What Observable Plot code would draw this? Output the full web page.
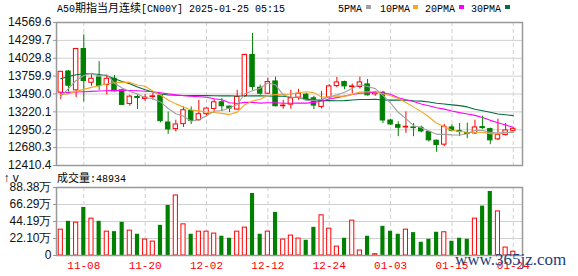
<!DOCTYPE html>
<html><head><meta charset="utf-8">
<script src="https://cdn.jsdelivr.net/npm/d3@7"></script>
<script src="https://cdn.jsdelivr.net/npm/@observablehq/plot@0.6"></script>
<style>
body{margin:0;background:#fff;}
#wrap{position:relative;width:578px;height:276px;overflow:hidden;background:#fff;}
#wrap svg{position:absolute;left:0;}
.abs{position:absolute;white-space:nowrap;line-height:12px;color:#000;}
.m{font-family:"Liberation Mono","DejaVu Sans Mono",monospace;font-size:10px;}
.c{font-family:"Noto Sans CJK SC",sans-serif;font-size:11px;}
.sw{position:absolute;width:5px;height:4px;}
</style></head><body>
<div id="wrap"></div>
<script>
// ---- data ----
const titleText = "A50期指当月连续[CN00Y] 2025-01-25 05:15";
const legendNames = ["5PMA", "10PMA", "20PMA", "30PMA"];
const volTitle = "成交量:48934";
const watermark = "www.365jz.com";

const dateTickIndex = [3, 11, 19, 27, 35, 43, 51, 59];
const dateTickLabels = ["11-08", "11-20", "12-02", "12-12", "12-24", "01-03", "01-15", "01-24"];

const priceTicks = [12410.4, 12680.3, 12950.2, 13220.1, 13490.0, 13759.9, 14029.8, 14299.7, 14569.6];
const volTicks = [0, 22.10, 44.19, 66.29, 88.38]; // 万

const open  = [13510,13830,13545,14170,13660,13740,13625,13720,13545,13340,13445,13415,13445,13465,13060,12960,13035,13235,13095,13185,13265,13365,13300,13255,13460,14080,13585,13495,13680,13305,13330,13435,13480,13425,13295,13435,13610,13670,13595,13595,13635,13485,13510,13090,13020,12985,12985,12980,12915,12785,12725,12985,12930,12900,12895,12990,12960,12805,12870,12935];
const high  = [13830,13845,14170,14385,13780,13980,13770,13770,13560,13470,13480,13480,13495,13465,13220,13095,13295,13295,13395,13280,13405,13420,13305,13545,14090,14405,13625,13730,13745,13395,13545,13560,13500,13455,13530,13635,13740,13685,13640,13745,13710,13530,13530,13110,13070,13220,13045,13005,12925,12795,13030,13025,13045,13050,13095,13155,12975,13110,13045,12975];
const low   = [13405,13520,13435,13370,13605,13545,13475,13520,13325,13305,13255,13380,13395,13055,12880,12915,12985,13030,13080,13155,13225,13225,13210,13245,13435,13545,13470,13485,13295,13260,13260,13395,13405,13255,13265,13410,13585,13555,13495,13565,13460,13455,13045,13015,12845,12895,12845,12905,12765,12610,12695,12915,12845,12815,12880,12955,12725,12785,12855,12905];
const close = [13825,13615,14170,13685,13720,13610,13720,13530,13325,13450,13430,13435,13455,13080,12955,13030,13245,13085,13185,13270,13365,13305,13270,13445,14080,13595,13495,13670,13305,13315,13425,13495,13415,13315,13395,13605,13665,13605,13605,13665,13470,13510,13090,13030,12980,12995,12975,12925,12790,12720,12995,12935,12915,12885,12985,12975,12790,12870,12940,12965];
const volume = [33.6,44.4,42.7,62.5,47.9,44.4,31.0,31.0,43.1,32.3,27.6,20.7,18.1,39.2,65.1,78.0,40.5,27.6,31.0,31.0,28.5,25.0,22.4,31.0,36.2,80.6,27.6,31.0,56.0,20.7,25.9,22.0,19.8,36.6,52.2,34.9,11.6,22.4,45.3,6.5,25.0,1.7,37.9,31.5,27.6,33.6,29.7,17.2,21.1,30.2,30.2,18.5,22.4,21.1,47.9,64.2,83.2,57.3,10.3,4.89];

const ma5  = [13455,13570,13695,13770,13803,13760,13781,13653,13581,13527,13491,13434,13419,13370,13271,13191,13153,13079,13100,13163,13230,13242,13279,13331,13493,13539,13577,13657,13629,13476,13442,13442,13391,13393,13409,13445,13479,13517,13575,13629,13602,13571,13468,13351,13214,13119,13012,12979,12933,12881,12881,12873,12871,12890,12943,12939,12910,12901,12912,12908];
const ma10 = [13480,13495,13530,13560,13590,13615,13640,13660,13670,13665,13626,13608,13536,13476,13399,13341,13294,13249,13235,13217,13211,13198,13179,13216,13328,13385,13410,13468,13480,13485,13491,13510,13524,13511,13443,13444,13461,13454,13484,13519,13524,13525,13493,13463,13422,13361,13292,13224,13142,13048,13000,12943,12925,12912,12912,12910,12892,12886,12901,12926];
const ma20 = [13510,13515,13520,13525,13530,13535,13540,13545,13545,13542,13538,13532,13525,13510,13492,13478,13466,13456,13448,13441,13418,13403,13358,13346,13364,13363,13352,13359,13358,13351,13351,13354,13352,13363,13385,13414,13435,13461,13482,13502,13507,13517,13508,13487,13432,13402,13376,13339,13313,13283,13262,13234,13209,13187,13167,13135,13092,13055,13022,12987];
const ma30 = [13720,13755,13780,13795,13795,13785,13765,13720,13680,13645,13595,13555,13520,13490,13475,13470,13468,13466,13465,13465,13463,13462,13461,13460,13460,13461,13461,13460,13458,13456,13442,13438,13413,13401,13390,13390,13388,13390,13400,13407,13408,13411,13399,13397,13397,13396,13387,13382,13369,13350,13338,13326,13314,13295,13259,13238,13215,13188,13176,13164];

// ---- styles ----
const RED = "#ff0000", GREEN = "#008000";
const maColors = ["#a0a0a0", "#f5a623", "#ff00ff", "#006f3c"];
const grid = "#d0d0d0", frameColor = "#999";

const rows = open.map((o, i) => ({i, o, h: high[i], l: low[i], c: close[i], v: volume[i], up: close[i] >= open[i],
  ma5: ma5[i], ma10: ma10[i], ma20: ma20[i], ma30: ma30[i]}));
const upRows = rows.filter(d => d.up), dnRows = rows.filter(d => !d.up);
const xDomain = [-0.56, 60.2];
const hw = 0.29, vw = 0.27;

const axisStyle = {fontFamily: "'Liberation Sans', sans-serif", fontSize: "12px", color: "#111", background: "transparent", overflow: "visible"};

const pricePlot = Plot.plot({
  width: 578, height: 178,
  marginLeft: 56, marginRight: 56, marginTop: 22, marginBottom: 13,
  style: axisStyle,
  x: {domain: xDomain, axis: null},
  y: {domain: [priceTicks[0], priceTicks[priceTicks.length - 1]], axis: null},
  marks: [
    Plot.ruleY(priceTicks.slice(1, -1), {stroke: grid}),
    Plot.ruleX(dateTickIndex, {stroke: grid, strokeDasharray: "4,3"}),
    Plot.ruleX(rows, {x: "i", y1: "l", y2: "h", stroke: d => d.up ? RED : GREEN}),
    Plot.rect(dnRows, {x1: d => d.i - hw, x2: d => d.i + hw, y1: "o", y2: "c", fill: GREEN, stroke: GREEN}),
    Plot.rect(upRows, {x1: d => d.i - hw, x2: d => d.i + hw, y1: "o", y2: "c", fill: "white", stroke: RED}),
    Plot.line(rows, {x: "i", y: "ma30", stroke: maColors[3], strokeWidth: 1.1}),
    Plot.line(rows, {x: "i", y: "ma20", stroke: maColors[2], strokeWidth: 1.1}),
    Plot.line(rows, {x: "i", y: "ma10", stroke: maColors[1], strokeWidth: 1.1}),
    Plot.line(rows, {x: "i", y: "ma5", stroke: maColors[0], strokeWidth: 1.1}),
    Plot.frame({stroke: frameColor, strokeWidth: 1.5}),
    Plot.axisY(priceTicks, {tickFormat: d => d.toFixed(1), tickSize: 3, tickPadding: 2, stroke: frameColor, fill: "#111"})
  ]
});

const volPlot = Plot.plot({
  width: 578, height: 106,
  marginLeft: 56, marginRight: 56, marginTop: 17, marginBottom: 21,
  style: axisStyle,
  x: {domain: xDomain, axis: null},
  y: {domain: [0, volTicks[volTicks.length - 1]], axis: null},
  marks: [
    Plot.ruleY(volTicks.slice(1, -1), {stroke: grid}),
    Plot.ruleX(dateTickIndex, {stroke: grid, strokeDasharray: "4,3"}),
    Plot.rect(dnRows, {x1: d => d.i - vw, x2: d => d.i + vw, y1: d => 0, y2: "v", fill: GREEN}),
    Plot.rect(upRows, {x1: d => d.i - vw, x2: d => d.i + vw, y1: d => 0, y2: "v", fill: "white", stroke: RED}),
    Plot.frame({stroke: frameColor, strokeWidth: 1.5}),
    Plot.axisY(volTicks, {tickFormat: d => d === 0 ? "0" : d.toFixed(2) + "万", tickSize: 3, tickPadding: 2, stroke: frameColor, fill: "#111"}),
    Plot.axisX(dateTickIndex, {tickFormat: d => dateTickLabels[dateTickIndex.indexOf(d)], tickSize: 0, tickPadding: 6,
      fill: RED, fontFamily: "'Liberation Mono', monospace", fontSize: 11})
  ]
});

const wrap = document.getElementById("wrap");
pricePlot.style.top = "0px";
volPlot.style.top = "170px";
wrap.appendChild(pricePlot);
wrap.appendChild(volPlot);

function addText(txt, left, top, extraStyle) {
  const d = document.createElement("div");
  d.className = "abs";
  d.style.left = left + "px"; d.style.top = top + "px";
  // split CJK and ASCII runs
  const parts = txt.match(/[\u4e00-\u9fff]+|[^\u4e00-\u9fff]+/g);
  for (const p of parts) {
    const s = document.createElement("span");
    s.className = /[\u4e00-\u9fff]/.test(p) ? "c" : "m";
    s.textContent = p;
    d.appendChild(s);
  }
  if (extraStyle) Object.assign(d.style, extraStyle);
  wrap.appendChild(d);
  return d;
}
addText(titleText, 57, 1);
addText(volTitle, 57, 171);

const legX = [338, 380, 425, 471];
const swX = [366, 413, 459, 505];
legendNames.forEach((n, k) => {
  addText(n, legX[k], 1);
  const s = document.createElement("div");
  s.className = "sw";
  s.style.left = swX[k] + "px"; s.style.top = "5px"; s.style.background = maColors[k];
  wrap.appendChild(s);
});

const wm = document.createElement("div");
wm.className = "abs";
wm.textContent = watermark;
Object.assign(wm.style, {left: "455px", top: "251px", fontFamily: "'Liberation Serif', serif", fontSize: "17px", color: "#1c3f7e", lineHeight: "17px"});
wrap.appendChild(wm);
</script>
</body></html>
